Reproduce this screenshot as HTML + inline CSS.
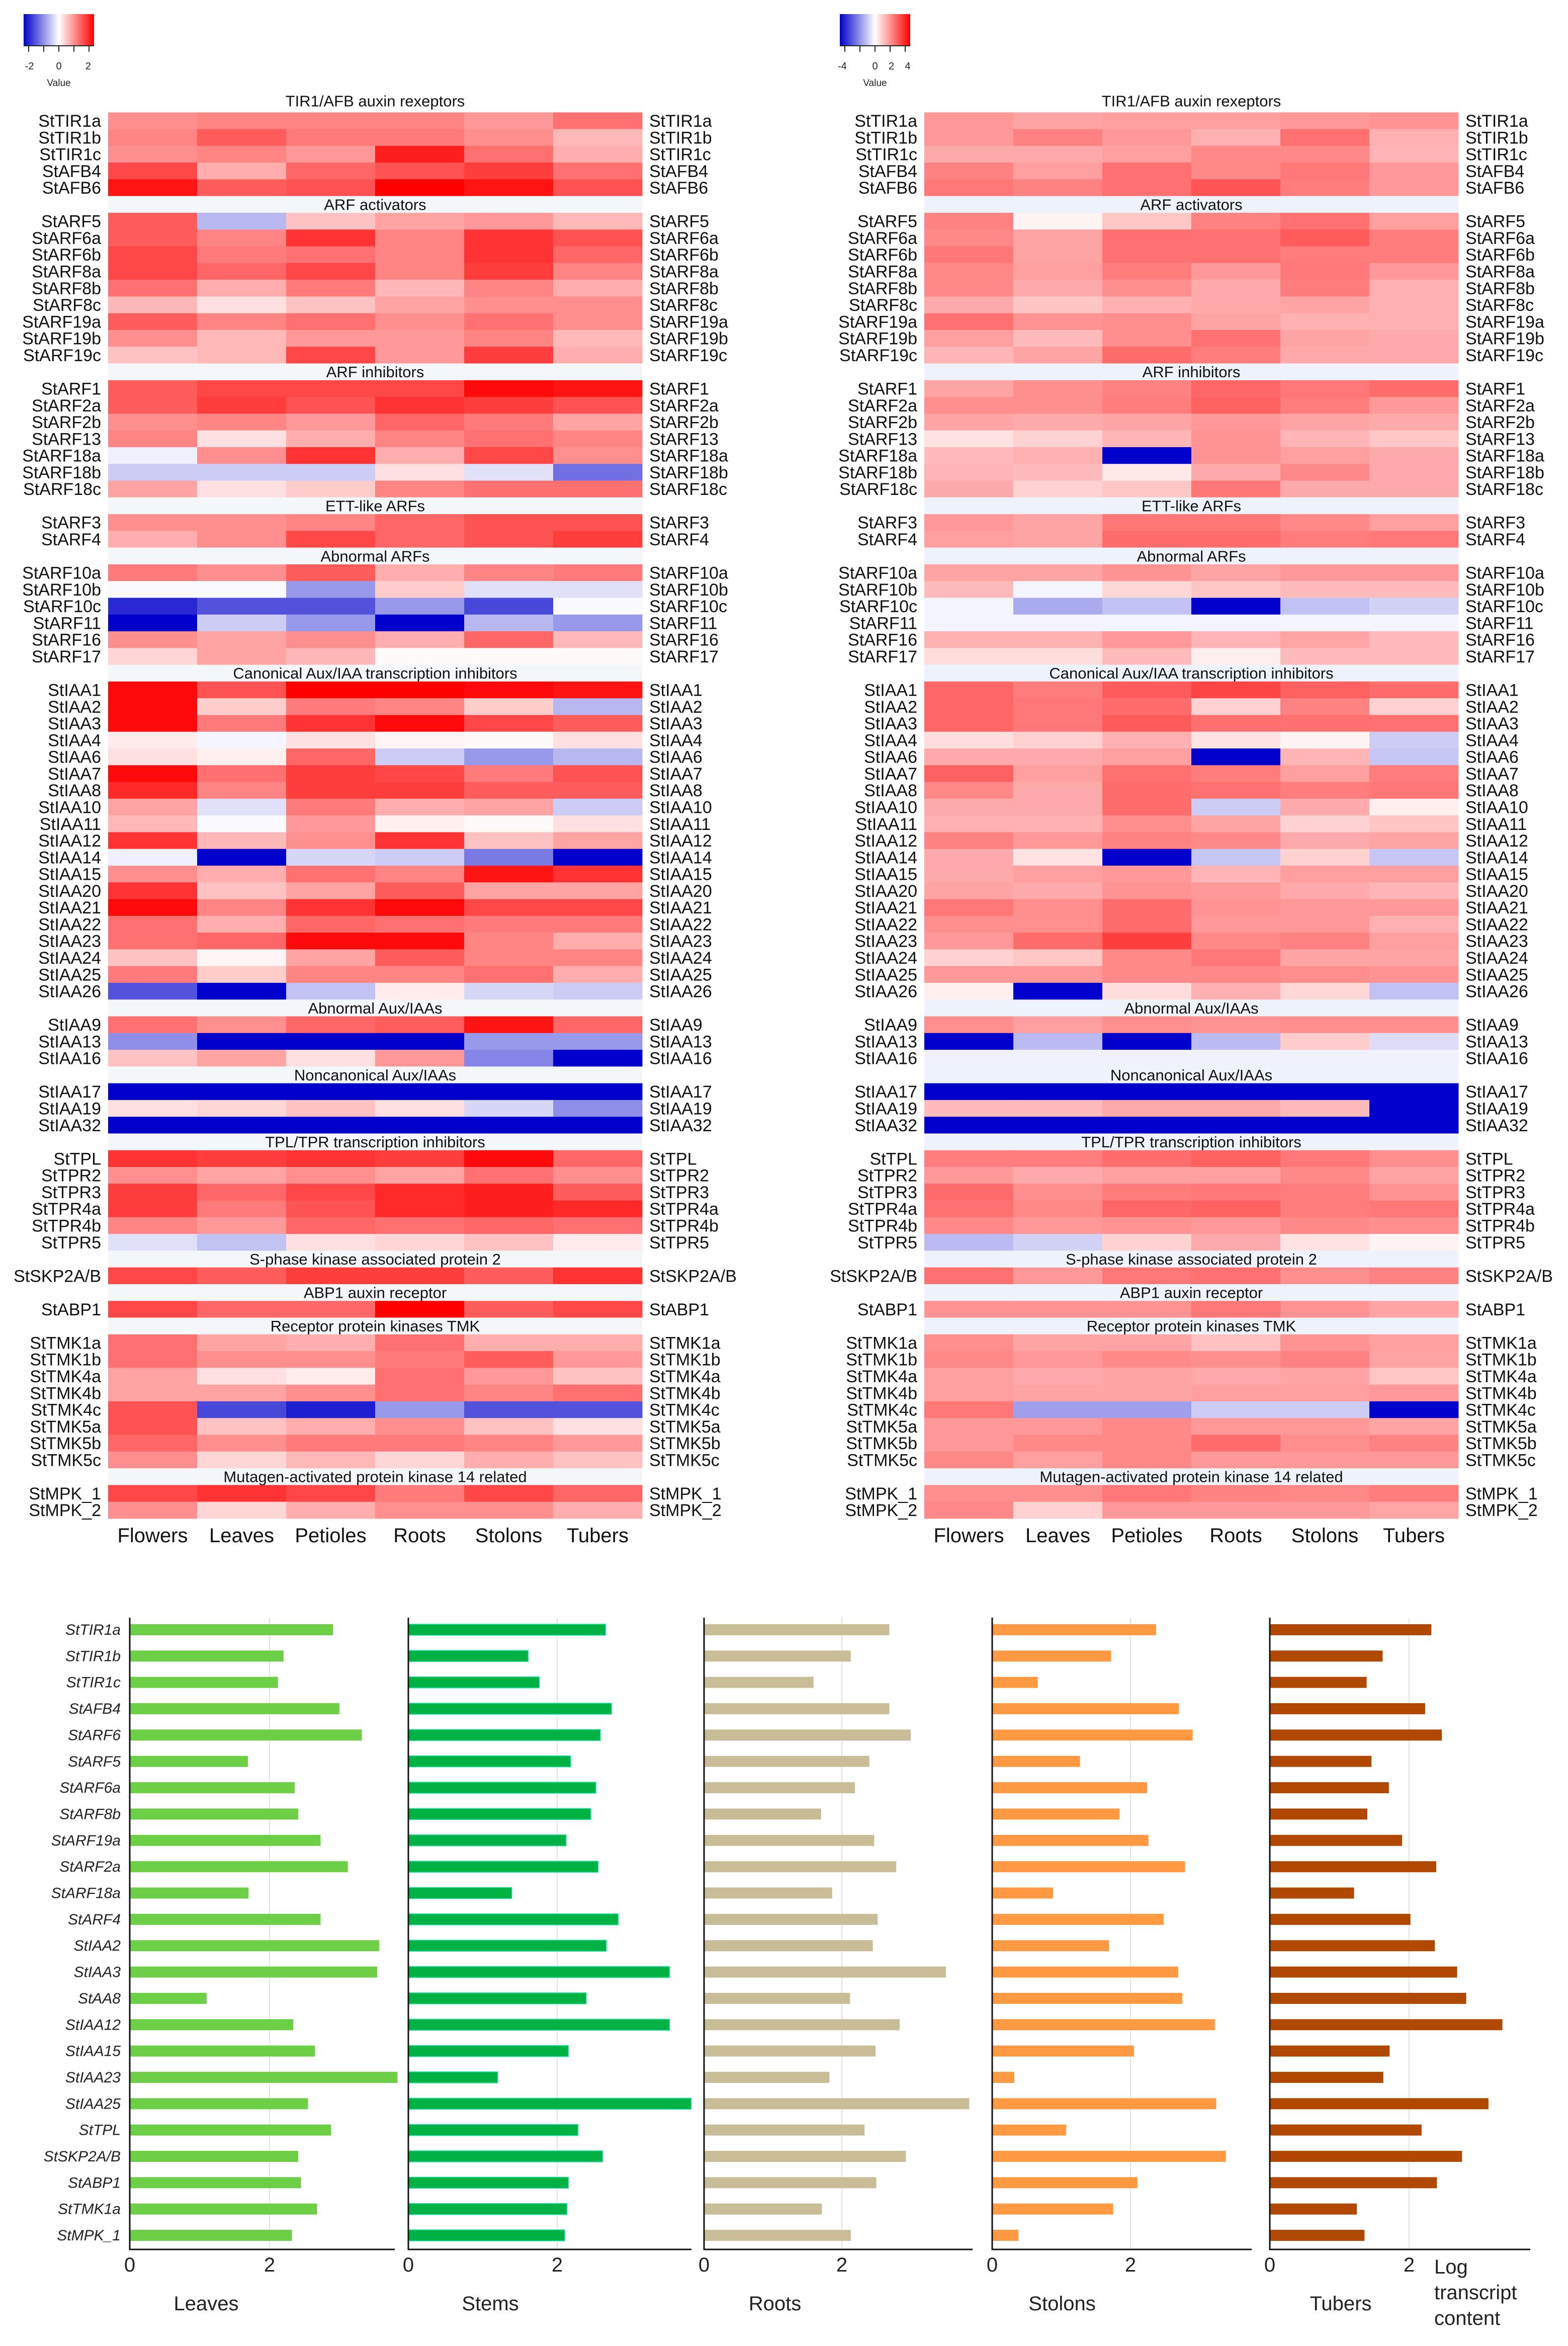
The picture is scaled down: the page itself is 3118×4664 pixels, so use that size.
<!DOCTYPE html>
<html><head><meta charset="utf-8"><title>Auxin gene expression</title>
<style>
html,body{margin:0;padding:0;background:#fff;}
svg{display:block;font-family:"Liberation Sans",Arial,sans-serif;}
</style></head>
<body>
<svg id="fig" xmlns="http://www.w3.org/2000/svg" width="3118" height="4664" viewBox="0 0 3118 4664">
<rect x="0" y="0" width="3118" height="4664" fill="#fff"/>
</svg>
<script>
// ---------- Heatmap data ----------
const tissues = ["Flowers","Leaves","Petioles","Roots","Stolons","Tubers"];
const groupTitles = ["TIR1/AFB auxin rexeptors","ARF activators","ARF inhibitors","ETT-like ARFs","Abnormal ARFs","Canonical Aux/IAA transcription inhibitors","Abnormal Aux/IAAs","Noncanonical Aux/IAAs","TPL/TPR transcription inhibitors","S-phase kinase associated protein 2","ABP1 auxin receptor","Receptor protein kinases TMK","Mutagen-activated protein kinase 14 related"];
const groupGenes = [
 ["StTIR1a","StTIR1b","StTIR1c","StAFB4","StAFB6"],
 ["StARF5","StARF6a","StARF6b","StARF8a","StARF8b","StARF8c","StARF19a","StARF19b","StARF19c"],
 ["StARF1","StARF2a","StARF2b","StARF13","StARF18a","StARF18b","StARF18c"],
 ["StARF3","StARF4"],
 ["StARF10a","StARF10b","StARF10c","StARF11","StARF16","StARF17"],
 ["StIAA1","StIAA2","StIAA3","StIAA4","StIAA6","StIAA7","StIAA8","StIAA10","StIAA11","StIAA12","StIAA14","StIAA15","StIAA20","StIAA21","StIAA22","StIAA23","StIAA24","StIAA25","StIAA26"],
 ["StIAA9","StIAA13","StIAA16"],
 ["StIAA17","StIAA19","StIAA32"],
 ["StTPL","StTPR2","StTPR3","StTPR4a","StTPR4b","StTPR5"],
 ["StSKP2A/B"],
 ["StABP1"],
 ["StTMK1a","StTMK1b","StTMK4a","StTMK4b","StTMK4c","StTMK5a","StTMK5b","StTMK5c"],
 ["StMPK_1","StMPK_2"]
];
const leftValues = [
 [1.1,1.2,1.2,1.2,1.0,1.4],[1.2,1.6,1.3,1.3,1.1,0.7],[1.1,1.2,1.0,2.2,1.4,0.8],[1.8,0.8,1.5,1.7,1.9,1.4],[2.3,1.6,1.7,2.5,2.3,1.7],
 [1.6,-0.7,0.6,0.9,1.0,0.7],[1.6,1.2,2.0,1.2,2.0,1.7],[1.8,1.3,1.4,1.2,2.0,1.5],[1.8,1.5,1.8,1.2,1.9,1.2],[1.4,0.8,1.3,0.7,1.2,0.8],[0.7,0.3,0.6,0.9,1.1,1.1],[1.6,1.2,1.4,1.1,1.4,1.1],[1.1,0.7,1.0,1.0,1.2,0.7],[0.6,0.7,1.8,1.0,1.9,0.8],
 [1.6,1.8,1.8,1.8,2.4,2.3],[1.6,1.9,1.7,2.0,1.9,1.7],[1.1,1.2,1.0,1.5,1.3,0.9],[1.2,0.3,0.8,1.2,1.4,1.2],[-0.15,1.1,2.0,0.8,1.8,1.1],[-0.5,-0.5,-0.5,0.3,-0.3,-1.4],[0.9,0.3,0.5,1.2,1.4,1.4],
 [1.1,1.1,1.2,1.5,1.7,1.7],[0.8,1.1,1.8,1.5,1.7,1.9],
 [1.3,1.1,1.6,0.8,1.2,1.3],[-0.05,-0.05,-1.0,0.5,-0.3,-0.3],[-2.1,-1.7,-1.7,-1.0,-1.8,-0.05],[-2.5,-0.5,-1.0,-2.5,-0.7,-1.0],[1.1,0.9,1.1,0.8,1.5,0.7],[0.4,0.9,0.7,0.05,0.05,0.05],
 [2.4,1.7,2.5,2.5,2.4,2.3],[2.4,0.5,1.3,1.2,0.5,-0.7],[2.4,1.3,2.0,2.4,1.8,1.6],[0.2,-0.1,0.3,0.1,0.05,0.3],[0.3,0.15,1.5,-0.5,-1.0,-0.7],[2.4,1.4,1.9,1.8,1.3,1.7],[2.1,1.2,1.9,1.9,1.6,1.6],[0.9,-0.3,1.3,0.8,0.9,-0.5],[0.7,-0.05,1.0,0.15,0.05,0.3],[2.0,0.7,1.1,2.0,0.6,0.9],[-0.15,-2.5,-0.4,-0.5,-1.3,-2.5],[1.1,0.8,1.4,1.2,2.3,2.0],[2.0,0.6,0.9,1.6,0.9,0.9],[2.4,1.2,2.0,2.4,1.8,1.8],[1.4,0.8,1.5,1.4,1.3,1.3],[1.4,1.5,2.4,2.4,1.2,0.8],[0.6,0.1,0.9,1.6,1.2,1.2],[1.3,0.5,1.2,1.2,1.4,0.8],[-1.7,-2.5,-0.6,0.2,-0.4,-0.5],
 [1.4,1.1,1.5,1.6,2.3,1.5],[-1.1,-2.5,-2.5,-2.5,-1.0,-1.0],[0.6,0.9,0.3,1.0,-1.2,-2.5],
 [-2.5,-2.5,-2.5,-2.5,-2.5,-2.5],[0.3,0.4,0.6,0.3,-0.4,-1.1],[-2.5,-2.5,-2.5,-2.5,-2.5,-2.5],
 [2.0,1.9,2.0,1.9,2.4,1.5],[1.1,0.9,1.1,0.9,1.4,1.1],[1.9,1.5,1.8,2.1,2.2,1.6],[1.9,1.3,1.7,2.1,2.2,2.1],[1.2,1.0,1.5,1.4,1.5,1.4],[-0.3,-0.6,0.3,0.4,0.6,0.2],
 [1.8,1.6,1.9,1.9,1.6,2.0],
 [1.8,1.5,1.5,2.5,1.6,1.8],
 [1.4,0.9,0.8,1.4,0.8,0.8],[1.4,1.1,1.1,1.3,1.6,1.0],[0.9,0.3,0.2,1.4,1.0,0.6],[0.9,0.9,1.1,1.4,1.2,1.4],[1.7,-1.8,-2.2,-1.0,-1.7,-1.7],[1.7,0.6,0.8,1.1,0.6,0.3],[1.5,1.1,1.3,1.3,1.2,1.0],[1.1,0.4,0.7,0.4,0.8,0.6],
 [1.8,2.0,1.8,1.3,1.8,1.5],[1.1,0.4,0.8,1.1,1.1,0.8]
];
const rightValues = [
 [1.8,1.6,1.7,1.7,1.8,1.9],[1.8,2.2,1.8,1.4,2.5,1.4],[1.5,1.5,1.7,2.1,2.1,1.3],[2.2,1.7,2.5,2.1,2.4,1.8],[2.4,2.2,2.5,3.0,2.3,1.8],
 [2.2,0.2,1.0,2.2,2.5,1.7],[2.1,1.6,2.5,2.5,2.9,2.3],[2.4,1.6,2.5,2.5,2.3,2.3],[2.1,1.7,2.3,1.8,2.4,1.8],[2.1,1.5,2.0,1.5,2.3,1.4],[1.5,1.0,1.4,1.5,1.6,1.4],[2.5,1.9,2.0,1.6,1.4,1.4],[1.7,1.2,2.0,2.5,1.6,1.5],[1.3,1.6,2.6,2.3,1.5,1.5],
 [1.6,2.0,2.2,2.7,2.4,2.6],[2.0,2.0,2.3,2.8,2.3,1.8],[1.6,1.5,1.6,1.8,1.6,1.5],[0.5,0.8,1.3,1.9,1.3,1.0],[1.2,1.4,-4.5,1.9,1.7,1.5],[1.3,1.2,0.4,1.5,2.1,1.5],[1.5,0.8,1.0,2.4,1.5,1.5],
 [1.8,1.6,2.4,2.4,2.1,1.7],[1.7,1.6,2.6,2.6,2.3,2.4],
 [1.6,1.6,1.9,1.6,1.8,1.8],[1.2,-0.2,0.7,1.0,1.2,1.2],[-0.2,-1.5,-1.1,-4.5,-1.1,-0.8],[-0.2,-0.2,-0.2,-0.2,-0.2,-0.2],[1.4,1.4,1.8,1.3,1.6,1.2],[0.6,0.6,1.2,0.3,1.2,1.2],
 [2.7,2.3,2.9,3.3,2.8,2.6],[2.7,2.4,2.6,0.8,2.2,0.8],[2.7,2.4,2.9,2.5,2.5,2.5],[0.6,0.8,1.4,0.5,0.2,-0.9],[1.5,1.5,1.7,-4.5,1.3,-1.0],[2.8,1.7,2.5,2.3,1.7,2.3],[2.1,1.5,2.6,2.5,2.3,2.4],[1.5,1.5,2.6,-0.9,1.5,0.3],[1.4,1.4,2.0,1.6,0.8,1.0],[2.2,1.8,2.2,2.1,1.5,1.6],[1.5,0.5,-4.5,-1.0,0.8,-1.0],[1.5,1.7,1.8,1.3,1.7,1.7],[1.6,1.5,1.9,1.8,1.5,1.3],[2.4,2.0,2.6,1.9,1.8,1.8],[2.0,2.0,2.6,1.8,1.8,1.4],[1.8,2.6,3.4,2.1,2.2,1.7],[0.8,1.0,2.1,2.4,1.6,1.6],[1.8,1.8,2.1,2.1,2.0,1.9],[0.3,-4.5,0.6,1.4,0.7,-1.1],
 [2.0,1.7,2.0,1.9,2.0,2.0],[-4.5,-1.2,-4.5,-1.2,0.9,-0.6],[-0.25,-0.25,-0.25,-0.25,-0.25,-0.25],
 [-4.5,-4.5,-4.5,-4.5,-4.5,-4.5],[1.2,1.2,1.5,1.5,1.2,-4.5],[-4.5,-4.5,-4.5,-4.5,-4.5,-4.5],
 [2.3,2.3,2.6,2.8,2.4,2.0],[1.8,1.5,1.7,1.7,2.1,1.6],[2.6,2.0,2.3,2.4,2.3,1.9],[2.5,2.1,2.7,2.8,2.3,2.4],[2.1,1.8,1.9,1.8,2.1,2.0],[-1.2,-0.8,0.8,1.5,0.5,0.2],
 [2.5,1.8,2.4,2.5,2.0,2.2],
 [1.9,1.9,1.9,2.4,1.9,1.6],
 [2.0,1.6,1.6,1.1,1.9,1.7],[2.1,1.8,2.1,2.0,2.2,1.6],[1.7,1.5,1.6,1.5,1.6,1.0],[1.7,1.6,1.6,1.7,1.7,1.8],[2.4,-1.7,-1.7,-0.9,-0.9,-4.5],[1.8,1.8,2.1,1.8,1.8,1.6],[1.8,2.1,2.1,2.6,2.0,2.2],[2.1,1.7,2.1,1.8,1.8,1.8],
 [2.0,2.0,2.4,2.2,2.1,2.3],[2.1,0.8,1.8,1.8,1.8,1.6]
];
const leftLegendTicks = ["-2","0","2"];
const rightLegendTicks = ["-4","0","2","4"];

// ---------- Bar chart data ----------
const barGenes = ["StTIR1a","StTIR1b","StTIR1c","StAFB4","StARF6","StARF5","StARF6a","StARF8b","StARF19a","StARF2a","StARF18a","StARF4","StIAA2","StIAA3","StAA8","StIAA12","StIAA15","StIAA23","StIAA25","StTPL","StSKP2A/B","StABP1","StTMK1a","StMPK_1"];
const leavesVals = [2.91,2.20,2.12,3.0,3.32,1.69,2.36,2.41,2.73,3.12,1.70,2.73,3.57,3.54,1.10,2.34,2.65,3.83,2.55,2.88,2.41,2.45,2.68,2.32];
const stemsVals = [2.65,1.61,1.76,2.73,2.58,2.18,2.52,2.45,2.12,2.55,1.39,2.82,2.66,3.51,2.39,3.51,2.15,1.20,3.80,2.28,2.61,2.15,2.13,2.10];
const rootsVals = [2.69,2.13,1.59,2.69,3.0,2.40,2.19,1.70,2.47,2.79,1.86,2.52,2.45,3.51,2.12,2.84,2.49,1.82,3.85,2.33,2.93,2.50,1.71,2.13];
const stolonsVals = [2.37,1.72,0.66,2.70,2.90,1.27,2.24,1.84,2.26,2.79,0.88,2.48,1.69,2.69,2.75,3.22,2.05,0.32,3.24,1.07,3.38,2.10,1.75,0.38];
const tubersVals = [2.32,1.62,1.39,2.23,2.47,1.46,1.71,1.40,1.90,2.39,1.21,2.02,2.37,2.69,2.82,3.34,1.72,1.63,3.14,2.18,2.76,2.40,1.25,1.36];
const panelNames = ["Leaves","Stems","Roots","Stolons","Tubers"];
const xTickLabels = ["0","2"];

// ---------- drawing ----------
const NS = "http://www.w3.org/2000/svg";
const svg = document.getElementById("fig");
function mk(tag, attrs, parent){
  const e = document.createElementNS(NS, tag);
  for (const k in attrs) e.setAttribute(k, attrs[k]);
  (parent||svg).appendChild(e);
  return e;
}
function colorFor(v, max){
  let t = Math.max(-1, Math.min(1, v/max));
  if (t >= 0){ const c = Math.round(255*(1-t)); return `rgb(255,${c},${c})`; }
  t = -t;
  const c = Math.round(255*(1-t)); const b = Math.round(255 - 51*t);
  return `rgb(${c},${c},${b})`;
}
const BAND = 33.28, ROW0 = 240, COLW = 177;

function drawHeatmap(cfg){
  const g = mk("g", {});
  
  
  const x0 = cfg.x0, W = COLW*6;
  let band = 0, gi = 0, vi = 0;
  groupTitles.forEach((title, k) => {
    let cy;
    if (k === 0) { cy = ROW0 - BAND - 6; }
    else {
      cy = ROW0 + band*BAND;
      const bg = mk("rect", {x:x0, y:cy-BAND/2, width:W, height:BAND, fill:cfg.bandFill}, g);
      
      
      band++;
    }
    const t = mk("text", {x:x0+W/2, y:cy+11, "text-anchor":"middle", "font-size":31, fill:"#111"}, g);
    
    
    t.textContent = title;
    groupGenes[k].forEach(gene => {
      const cyr = ROW0 + band*BAND;
      const vals = cfg.values[vi];
      vals.forEach((v, c) => {
        const r = mk("rect", {x:x0 + c*COLW, y:cyr-BAND/2, width:COLW+0.5, height:BAND+0.5, fill:colorFor(v, cfg.max)}, g);
        
        
      });
      const l = mk("text", {x:x0-14, y:cyr+12, "text-anchor":"end", "font-size":34, fill:"#111", textLength:"", }, g);
      l.removeAttribute("textLength");
      
      
      l.textContent = gene;
      const rl = mk("text", {x:x0+W+14, y:cyr+12, "font-size":34, fill:"#111"}, g);
      
      
      rl.textContent = gene;
      band++; vi++;
    });
  });
  tissues.forEach((tname, c) => {
    const t = mk("text", {x:x0 + c*COLW + COLW/2, y:3066, "text-anchor":"middle", "font-size":40, fill:"#111"}, g);
    
    
    t.textContent = tname;
  });
  // legend
  const lg = mk("g", {}, g);
  
  
  const gid = cfg.name + "-grad";
  const defs = mk("defs", {}, lg);
  const grad = mk("linearGradient", {id:gid, x1:"0", x2:"1", y1:"0", y2:"0"}, defs);
  mk("stop", {offset:"0", "stop-color":"#0000cc"}, grad);
  mk("stop", {offset:"0.5", "stop-color":"#ffffff"}, grad);
  mk("stop", {offset:"1", "stop-color":"#ff0000"}, grad);
  const lx = cfg.legX, lw = 140;
  mk("rect", {x:lx, y:28, width:lw, height:63, fill:`url(#${gid})`}, lg);
  mk("line", {x1:lx, x2:lx+lw, y1:91, y2:91, stroke:"#222", "stroke-width":2}, lg);
  for (let i=0;i<5;i++){
    const tx = lx + 10 + i*30;
    mk("line", {x1:tx, x2:tx, y1:91, y2:103, stroke:"#222", "stroke-width":2}, lg);
  }
  cfg.ticks.forEach(lbl => {
    const v = parseFloat(lbl);
    const tx = lx + lw/2 + v/cfg.legMax*(lw/2);
    const t = mk("text", {x:tx, y:138, "text-anchor":"middle", "font-size":20, fill:"#222"}, lg);
    
    
    t.textContent = lbl;
  });
  const vt = mk("text", {x:lx+lw/2, y:171, "text-anchor":"middle", "font-size":19, fill:"#222"}, lg);
  
  
  vt.textContent = "Value";
}
drawHeatmap({name:"heatmap-left", x0:215, values:leftValues, max:2.5, bandFill:"#f4f7fa", legX:47, ticks:leftLegendTicks, legMax:2.4});
drawHeatmap({name:"heatmap-right", x0:1838, values:rightValues, max:4.5, bandFill:"#eef2fa", legX:1670, ticks:rightLegendTicks, legMax:4.3});

// bar panels
const panelVals = [leavesVals, stemsVals, rootsVals, stolonsVals, tubersVals];
const panelX0 = [258, 812, 1400, 1973, 2525];
const panelUnit = [139, 148, 137, 137.5, 138.5];
const panelEnd = [785, 1375, 1934, 2489, 3043];
const panelFill = ["#6dcf45", "#00b144", "#c9bd98", "#ff9a42", "#b04800"];
const panelTitleX = [410, 975, 1541, 2112, 2666];
const BY0 = 3240, BSTEP = 52.35, BH = 22, AXY = 4472, AXTOP = 3216;
panelVals.forEach((vals, p) => {
  const g = mk("g", {});
  
  
  const x0 = panelX0[p], u = panelUnit[p];
  const xs = v => x0 + v*u;
  mk("line", {x1:xs(2), x2:xs(2), y1:AXTOP, y2:AXY, stroke:"#e2e2e2", "stroke-width":2}, g);
  vals.forEach((v, i) => {
    const cy = BY0 + i*BSTEP;
    const r = mk("rect", {x:x0, y:cy-BH/2, width:xs(v)-x0, height:BH, fill:panelFill[p]}, g);
    if (p === 1) { r.setAttribute("stroke", "#19e3a8"); r.setAttribute("stroke-width", "1.5"); }
    
    
    if (p === 0) {
      const t = mk("text", {x:240, y:cy+10, "text-anchor":"end", "font-size":30, "font-style":"italic", fill:"#222"}, g);
      
      
      t.textContent = barGenes[i];
    }
  });
  mk("line", {x1:x0, x2:x0, y1:AXTOP, y2:AXY+1, stroke:"#111", "stroke-width":3}, g);
  mk("line", {x1:x0-1, x2:panelEnd[p], y1:AXY, y2:AXY, stroke:"#111", "stroke-width":3}, g);
  xTickLabels.forEach(lbl => {
    const t = mk("text", {x:xs(parseFloat(lbl)), y:4516, "text-anchor":"middle", "font-size":40, fill:"#222"}, g);
    
    
    t.textContent = lbl;
  });
  const tt = mk("text", {x:panelTitleX[p], y:4593, "text-anchor":"middle", "font-size":40, fill:"#222"}, g);
  
  
  tt.textContent = panelNames[p];
});
["Log","transcript","content"].forEach((w, i) => {
  const t = mk("text", {x:2852, y:4520 + i*51, "font-size":40, fill:"#222"});
  
  
  t.textContent = w;
});
</script>
</body></html>
